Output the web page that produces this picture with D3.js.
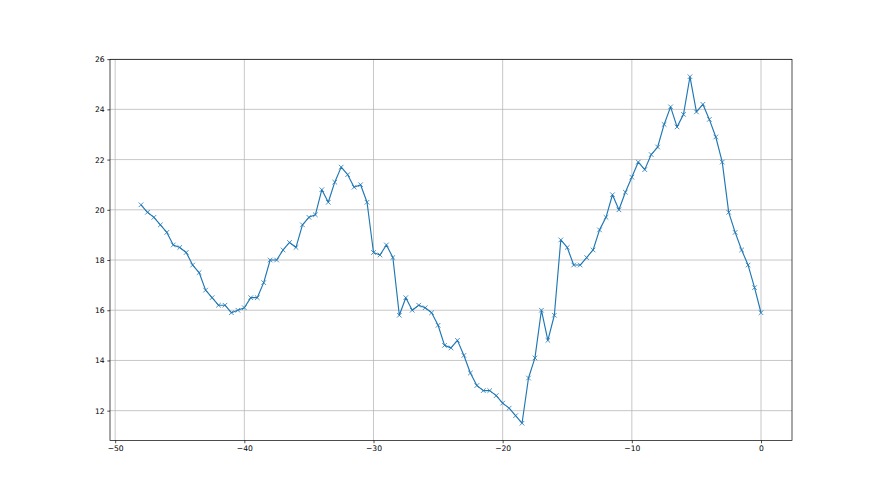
<!DOCTYPE html>
<html>
<head>
<meta charset="utf-8">
<script src="https://cdn.jsdelivr.net/npm/d3@7"></script>
<style>
  body { margin: 0; background: #fff; }
  svg { display: block; }
  .tick text { font-family: "DejaVu Sans", sans-serif; font-size: 7.6px; fill: #000; }
</style>
</head>
<body>
<script>
// x runs -48 .. 0 in steps of 0.5
const xStart = -48, xStep = 0.5
const yValues = [
  20.2, 19.9, 19.7, 19.4, 19.1, 18.6, 18.5, 18.3, 17.8, 17.5,
  16.8, 16.5, 16.2, 16.2, 15.9, 16.0, 16.1, 16.5, 16.5, 17.1,
  18.0, 18.0, 18.4, 18.7, 18.5, 19.4, 19.7, 19.8, 20.8, 20.3,
  21.1, 21.7, 21.4, 20.9, 21.0, 20.3, 18.3, 18.2, 18.6, 18.1,
  15.8, 16.5, 16.0, 16.2, 16.1, 15.9, 15.4, 14.6, 14.5, 14.8,
  14.2, 13.5, 13.0, 12.8, 12.8, 12.6, 12.3, 12.1, 11.8, 11.5,
  13.3, 14.1, 16.0, 14.8, 15.8, 18.8, 18.5, 17.8, 17.8, 18.1,
  18.4, 19.2, 19.7, 20.6, 20.0, 20.7, 21.3, 21.9, 21.6, 22.2,
  22.5, 23.4, 24.1, 23.3, 23.8, 25.3, 23.9, 24.2, 23.6, 22.9,
  21.9, 19.9, 19.1, 18.4, 17.8, 16.9, 15.9
]
const xTicks = [-50, -40, -30, -20, -10, 0]
const yTicks = [12, 14, 16, 18, 20, 22, 24, 26]

const data = yValues.map((v, i) => ({x: xStart + i * xStep, y: v}))

width = 880
height = 495
margin = {top: 59.4, right: 88, bottom: 54.45, left: 110}
const iw = width - margin.left - margin.right
const ih = height - margin.top - margin.bottom

// matplotlib style 5% padding
const xmin = d3.min(data, d => d.x), xmax = d3.max(data, d => d.x)
const ymin = d3.min(data, d => d.y), ymax = d3.max(data, d => d.y)
const xpad = (xmax - xmin) * 0.05, ypad = (ymax - ymin) * 0.05

const x = d3.scaleLinear().domain([xmin - xpad, xmax + xpad]).range([0, iw])
const y = d3.scaleLinear().domain([ymin - ypad, ymax + ypad]).range([ih, 0])

const fmt = d => d < 0 ? "\u2212" + Math.abs(d) : String(d)

const svg = d3.select("body").append("svg")
    .attr("width", width)
    .attr("height", height)

const g = svg.append("g")
    .attr("transform", `translate(${margin.left},${margin.top})`)

// grid
g.append("g")
    .selectAll("line")
    .data(xTicks)
    .join("line")
    .attr("x1", d => x(d)).attr("x2", d => x(d))
    .attr("y1", 0).attr("y2", ih)
    .attr("stroke", "#b0b0b0")
    .attr("stroke-width", 0.7)

g.append("g")
    .selectAll("line")
    .data(yTicks)
    .join("line")
    .attr("x1", 0).attr("x2", iw)
    .attr("y1", d => y(d)).attr("y2", d => y(d))
    .attr("stroke", "#b0b0b0")
    .attr("stroke-width", 0.7)

// axes
const xAxis = g.append("g")
    .attr("transform", `translate(0,${ih})`)
    .call(d3.axisBottom(x).tickValues(xTicks).tickFormat(fmt).tickSize(2.7).tickPadding(2.7))
const yAxis = g.append("g")
    .call(d3.axisLeft(y).tickValues(yTicks).tickFormat(fmt).tickSize(2.7).tickPadding(2.7))

xAxis.select(".domain").remove()
yAxis.select(".domain").remove()
svg.selectAll(".tick line").attr("stroke", "#000").attr("stroke-width", 0.7)

// frame
g.append("rect")
    .attr("width", iw)
    .attr("height", ih)
    .attr("fill", "none")
    .attr("stroke", "#000")
    .attr("stroke-width", 0.7)

// series
const line = d3.line().x(d => x(d.x)).y(d => y(d.y))

g.append("path")
    .datum(data)
    .attr("fill", "none")
    .attr("stroke", "#1f77b4")
    .attr("stroke-width", 1.15)
    .attr("stroke-linejoin", "round")
    .attr("d", line)

const m = 2.3
g.append("g")
    .selectAll("path")
    .data(data)
    .join("path")
    .attr("d", d => {
        const cx = x(d.x), cy = y(d.y)
        return `M${cx - m},${cy - m}L${cx + m},${cy + m}M${cx - m},${cy + m}L${cx + m},${cy - m}`
    })
    .attr("stroke", "#1f77b4")
    .attr("stroke-width", 0.8)
    .attr("fill", "none")
</script>
</body>
</html>
